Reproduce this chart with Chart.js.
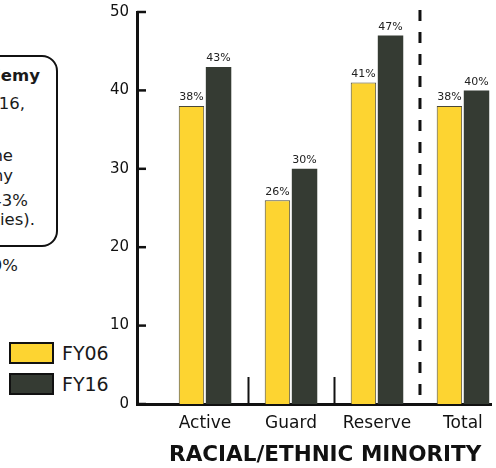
<!DOCTYPE html>
<html>
<head>
<meta charset="utf-8">
<script src="https://cdn.jsdelivr.net/npm/chart.js@4.4.1/dist/chart.umd.min.js"></script>
<style>
  html, body { margin: 0; padding: 0; background: #fff; }
  body { width: 496px; height: 468px; overflow: hidden; position: relative; font-family: "DejaVu Sans", sans-serif; color: #1a1a1a; }
  #chartBox { position: absolute; left: 0; top: 0; width: 496px; height: 468px; }
  .note { position: absolute; left: -120px; top: 55px; width: 174px; height: 188px; border: 2px solid #111; border-radius: 16px; }
  .frag { position: absolute; margin: 0; font-size: 16.5px; line-height: 20px; white-space: nowrap; }
  .frag.b { font-weight: bold; }
  .leg { position: absolute; left: 9px; height: 22px; font-size: 19px; line-height: 22px; white-space: nowrap; }
  .leg .sw { display: inline-block; box-sizing: border-box; width: 45px; height: 22px; border: 2.5px solid #111; vertical-align: top; margin-right: 8px; }
</style>
</head>
<body>
<div class="note"></div>
<p class="frag b" style="right:456px; top:66px">Academy</p>
<p class="frag" style="right:471px; top:94px">in FY16,</p>
<p class="frag" style="right:483px; top:146px">the</p>
<p class="frag" style="right:483px; top:166px">Army</p>
<p class="frag" style="right:468px; top:191px">43%</p>
<p class="frag" style="right:461px; top:210px">(minorities).</p>
<p class="frag" style="right:478px; top:256px">39%</p>
<div id="legend"></div>
<div id="chartBox"><canvas id="chart"></canvas></div>
<script>
const categories = ['Active', 'Guard', 'Reserve', 'Total'];
const seriesNames = ['FY06', 'FY16'];
const fy06 = [38, 26, 41, 38];
const fy16 = [43, 30, 47, 40];
const yTicks = [0, 10, 20, 30, 40, 50];
const axisTitle = 'RACIAL/ETHNIC MINORITY';

const yellow = '#FDD431';
const dark = '#353B33';
const ink = '#111111';

const toPoints = vals => vals.map((v, i) => ({ x: i + 1, y: v }));

// inward y ticks, group separators and value labels
const decor = {
  id: 'decor',
  afterDatasetsDraw(chart) {
    const { ctx, chartArea, scales: { x, y } } = chart;
    ctx.save();
    ctx.strokeStyle = ink;
    ctx.lineWidth = 2.5;
    y.ticks.forEach(t => {
      const py = y.getPixelForValue(t.value);
      ctx.beginPath();
      ctx.moveTo(chartArea.left, py);
      ctx.lineTo(chartArea.left + 9, py);
      ctx.stroke();
    });

    ctx.lineWidth = 2;
    [1.5, 2.5].forEach(v => {
      const px = Math.round(x.getPixelForValue(v)) + 0.5;
      ctx.beginPath();
      ctx.moveTo(px, chartArea.bottom);
      ctx.lineTo(px, chartArea.bottom - 27);
      ctx.stroke();
    });

    ctx.lineWidth = 3;
    ctx.setLineDash([11, 11]);
    const dx = x.getPixelForValue(3.5);
    ctx.beginPath();
    ctx.moveTo(dx, chartArea.top - 2);
    ctx.lineTo(dx, chartArea.bottom);
    ctx.stroke();
    ctx.setLineDash([]);

    ctx.font = '11px "DejaVu Sans"';
    ctx.textAlign = 'center';
    ctx.textBaseline = 'bottom';
    ctx.fillStyle = '#222';
    chart.data.datasets.forEach((ds, di) => {
      chart.getDatasetMeta(di).data.forEach((bar, i) => {
        ctx.fillText(ds.data[i].y + '%', bar.x, bar.y - 3);
      });
    });
    ctx.restore();
  }
};

const chart = new Chart(document.getElementById('chart'), {
  type: 'bar',
  data: {
    datasets: [
      { label: seriesNames[0], data: toPoints(fy06), backgroundColor: yellow, borderColor: '#4a4838', borderWidth: 1 },
      { label: seriesNames[1], data: toPoints(fy16), backgroundColor: dark, borderColor: dark, borderWidth: 0 }
    ]
  },
  options: {
    responsive: true,
    maintainAspectRatio: false,
    animation: false,
    categoryPercentage: 0.63,
    barPercentage: 0.94,
    layout: { padding: { top: 12, right: 5, left: 0, bottom: 0 } },
    plugins: { legend: { display: false }, tooltip: { enabled: false } },
    scales: {
      x: {
        type: 'linear',
        offset: false,
        min: 0.209,
        max: 4.326,
        z: 1,
        grid: { display: false, drawTicks: false },
        border: { display: true, color: ink, width: 3 },
        afterBuildTicks: s => { s.ticks = categories.map((c, i) => ({ value: i + 1 })); },
        afterFit: s => { s.height = 64; s.paddingLeft = 0; s.paddingRight = 0; },
        ticks: {
          autoSkip: false,
          maxRotation: 0,
          padding: 9,
          color: ink,
          font: { family: 'DejaVu Sans', size: 17 },
          callback: v => categories[v - 1]
        },
        title: {
          display: true,
          text: '\u00a0\u00a0\u00a0' + axisTitle,
          color: ink,
          font: { family: 'DejaVu Sans', size: 21.5, weight: 'bold' },
          padding: { top: 0, bottom: 0 }
        }
      },
      y: {
        min: yTicks[0],
        max: yTicks[yTicks.length - 1],
        grid: { display: false, drawTicks: false },
        border: { display: true, color: ink, width: 3 },
        afterBuildTicks: s => { s.ticks = yTicks.map(v => ({ value: v })); },
        afterFit: s => { s.width = 137; s.paddingTop = 0; s.paddingBottom = 0; },
        ticks: {
          padding: 8,
          color: ink,
          font: { family: 'DejaVu Sans', size: 15 }
        }
      }
    }
  },
  plugins: [decor]
});

// legend from the datasets
const legend = document.getElementById('legend');
chart.data.datasets.forEach((ds, i) => {
  const item = document.createElement('div');
  item.className = 'leg';
  item.style.top = (342 + i * 31) + 'px';
  const sw = document.createElement('span');
  sw.className = 'sw';
  sw.style.background = ds.backgroundColor;
  item.appendChild(sw);
  item.appendChild(document.createTextNode(ds.label));
  legend.appendChild(item);
});
</script>
</body>
</html>
